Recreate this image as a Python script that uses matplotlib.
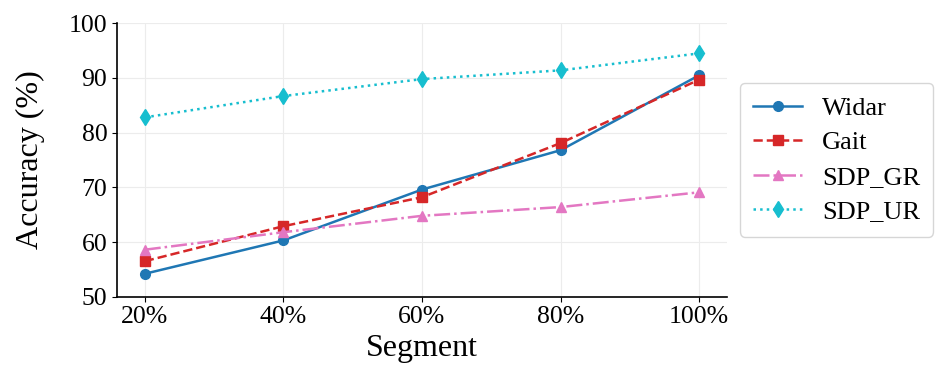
import matplotlib
matplotlib.use("Agg")
import matplotlib.pyplot as plt
import numpy as np

# Data
segments = ['20%', '40%', '60%', '80%', '100%']
widar = [54.2, 60.3, 69.6, 76.8, 90.5]
gait = [56.5, 62.9, 68.2, 78.1, 89.7]
sdp_gr = [58.6, 61.8, 64.8, 66.4, 69.1]
sdp_ur = [82.8, 86.7, 89.8, 91.4, 94.5]

plt.rcParams['font.family'] = ['Liberation Serif', 'DejaVu Serif']

fig = plt.figure(figsize=(9.47, 3.79), dpi=100)
ax = fig.add_axes([0.1236, 0.217, 0.644, 0.7215])

x = np.arange(len(segments))
ax.plot(x, widar, color='#1f77b4', linestyle='-', marker='o', markersize=7, linewidth=1.8, label='Widar')
ax.plot(x, gait, color='#d62728', linestyle='--', marker='s', markersize=7, linewidth=1.8, label='Gait')
ax.plot(x, sdp_gr, color='#e377c2', linestyle='-.', marker='^', markersize=7, linewidth=1.8, label='SDP_GR')
ax.plot(x, sdp_ur, color='#17becf', linestyle=':', marker='d', markersize=8, linewidth=1.8, label='SDP_UR')

ax.set_xticks(x)
ax.set_xticklabels(segments, fontsize=18.5)
ax.set_xlim(-0.2, 4.2)
ax.set_ylim(50, 100)
ax.set_yticks(range(50, 101, 10))
ax.tick_params(axis='y', labelsize=18.5)
ax.set_xlabel('Segment', fontsize=23)
ax.set_ylabel('Accuracy (%)', fontsize=23, labelpad=17)
ax.grid(True, color='#ececec', linewidth=0.8)
ax.set_axisbelow(True)
for s in ['top', 'right']:
    ax.spines[s].set_visible(False)
for s in ['left', 'bottom']:
    ax.spines[s].set_linewidth(1.2)

ax.legend(loc='center left', bbox_to_anchor=(740 / 947, 0.578), bbox_transform=fig.transFigure,
          borderaxespad=0, fontsize=19, handlelength=1.85, handletextpad=0.75,
          labelspacing=0.42, borderpad=0.5, frameon=True)

fig.savefig('out.png', dpi=100)
